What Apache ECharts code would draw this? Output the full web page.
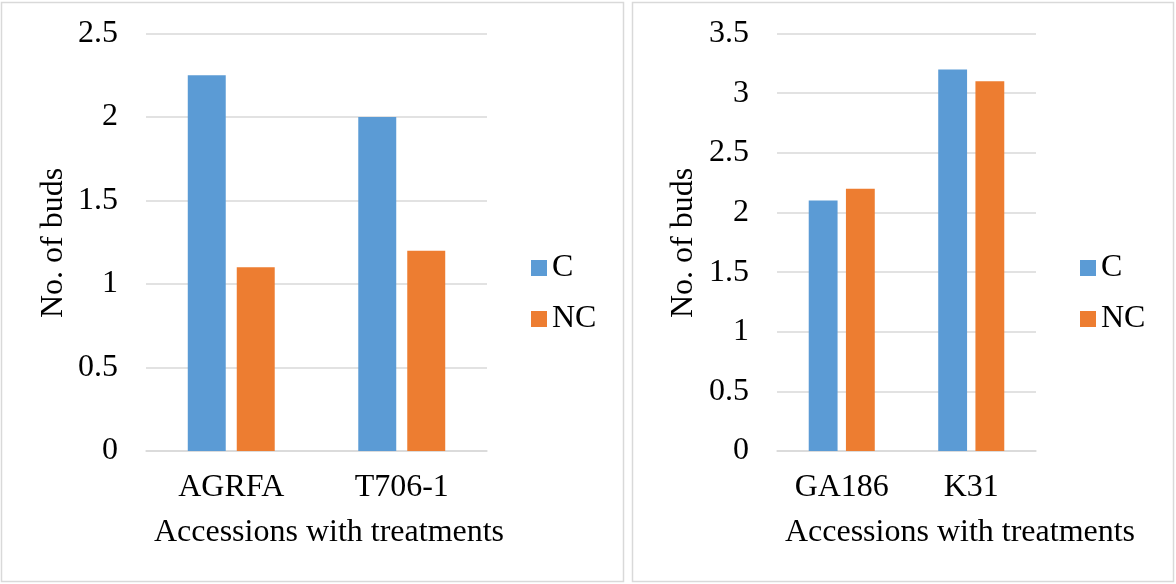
<!DOCTYPE html>
<html>
<head>
<meta charset="utf-8">
<script src="https://cdn.jsdelivr.net/npm/echarts@6/dist/echarts.min.js"></script>
<style>
  html, body { margin: 0; padding: 0; background: #fff; }
  #chart { width: 1176px; height: 584px; }
</style>
</head>
<body>
<div id="chart"></div>
<script>
// Bud counts per accession under C and NC treatments
const leftCategories = ['AGRFA', 'T706-1'];
const leftC = [2.25, 2.0];
const leftNC = [1.1, 1.2];

const rightCategories = ['GA186', 'K31'];
const rightC = [2.1, 3.2];
const rightNC = [2.2, 3.1];

const seriesNames = ['C', 'NC'];
const yTitle = 'No. of buds';
const xTitle = 'Accessions with treatments';

const FONT = '"Liberation Serif", "Times New Roman", serif';
const FS = 32;
const BLUE = '#5b9bd5';
const ORANGE = '#ed7d31';
const GRID_LINE = '#d9d9d9';

const chart = echarts.init(document.getElementById('chart'), null, { renderer: 'canvas' });

function xAxisCfg(idx, cats) {
  return {
    type: 'category', gridIndex: idx, data: cats,
    axisLine: { show: true, lineStyle: { color: GRID_LINE, width: 1.5 } },
    axisTick: { show: false },
    axisLabel: { color: '#000', fontFamily: FONT, fontSize: FS, margin: 21 }
  };
}
function yAxisCfg(idx, max) {
  return {
    type: 'value', gridIndex: idx, min: 0, max: max, interval: 0.5,
    axisLine: { show: false }, axisTick: { show: false },
    splitLine: { lineStyle: { color: GRID_LINE, width: 1.5 } },
    axisLabel: { color: '#000', fontFamily: FONT, fontSize: FS, margin: 28 }
  };
}
function legendCfg(left) {
  return {
    left: left, top: 252, orient: 'vertical', padding: 0,
    data: seriesNames, icon: 'rect', itemWidth: 16, itemHeight: 16, itemGap: 19,
    textStyle: { color: '#000', fontFamily: FONT, fontSize: FS, lineHeight: 32 }
  };
}
function barSeries(name, color, idx, data) {
  return {
    name: name, type: 'bar', xAxisIndex: idx, yAxisIndex: idx, data: data,
    itemStyle: { color: color },
    barCategoryGap: '49%', barGap: '29%'
  };
}
function axisTitles(cx, cyY, cxX, cyX) {
  return [
    { type: 'text', x: cx, y: cyY, rotation: Math.PI / 2,
      style: { text: yTitle, font: FS + 'px ' + FONT, fill: '#000', textAlign: 'center', textVerticalAlign: 'middle' } },
    { type: 'text', x: cxX, y: cyX,
      style: { text: xTitle, font: FS + 'px ' + FONT, fill: '#000', textAlign: 'center', textVerticalAlign: 'middle' } }
  ];
}

chart.setOption({
  animation: false,
  backgroundColor: '#fff',
  grid: [
    { left: 146, top: 33.6, width: 341, height: 417.4 },
    { left: 777, top: 33.6, width: 259, height: 417.4 }
  ],
  xAxis: [xAxisCfg(0, leftCategories), xAxisCfg(1, rightCategories)],
  yAxis: [yAxisCfg(0, 2.5), yAxisCfg(1, 3.5)],
  legend: [legendCfg(531), legendCfg(1080)],
  series: [
    barSeries(seriesNames[0], BLUE, 0, leftC),
    barSeries(seriesNames[1], ORANGE, 0, leftNC),
    barSeries(seriesNames[0], BLUE, 1, rightC),
    barSeries(seriesNames[1], ORANGE, 1, rightNC)
  ],
  graphic: [
    { type: 'rect', shape: { x: 1.5, y: 2.5, width: 622, height: 579 },
      style: { fill: 'none', stroke: GRID_LINE, lineWidth: 1.5 }, silent: true },
    { type: 'rect', shape: { x: 632.5, y: 2.5, width: 541, height: 579 },
      style: { fill: 'none', stroke: GRID_LINE, lineWidth: 1.5 }, silent: true }
  ].concat(axisTitles(54, 243, 329, 533), axisTitles(684, 243, 960, 533))
});
</script>
</body>
</html>
